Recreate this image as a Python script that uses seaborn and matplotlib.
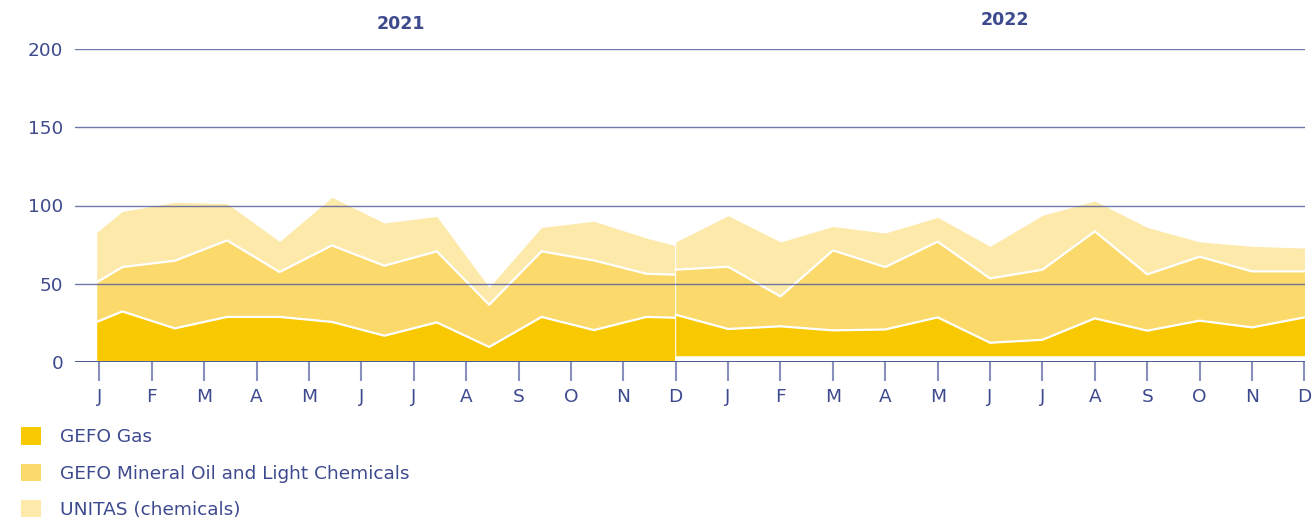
import numpy as np
import matplotlib
matplotlib.use('Agg')
import matplotlib.pyplot as plt
from matplotlib.patches import Patch
import seaborn as sns

# month labels for both years, one tick per month
month_labels = ['J', 'F', 'M', 'A', 'M', 'J', 'J', 'A', 'S', 'O', 'N', 'D'] * 2
years = ['2021', '2022']

# 2021 points sit between the month ticks, 2022 points sit on them
x_2021 = [-0.05, 0.44, 1.44, 2.44, 3.44, 4.44, 5.44, 6.44, 7.44, 8.44, 9.44, 10.44, 10.98]
x_2022 = [11, 12, 13, 14, 15, 16, 17, 18, 19, 20, 21, 22, 23]

base_2021 = 1.0
base_2022 = 4.0

gas_2021 = [24.6, 31.3, 20.5, 27.8, 27.8, 24.6, 15.8, 24.3, 8.6, 27.8, 19.4, 27.8, 27.3]
oil_2021 = [25.3, 28.4, 43.2, 48.9, 28.7, 48.9, 44.7, 45.4, 27.0, 41.9, 44.5, 27.6, 27.5]
unitas_2021 = [31.9, 35.5, 37.3, 23.5, 19.5, 30.7, 27.3, 22.3, 11.1, 15.3, 25.0, 22.8, 18.7]

gas_2022 = [26.2, 17.1, 18.8, 16.2, 16.8, 24.5, 8.3, 10.2, 23.9, 16.0, 22.4, 18.1, 24.5]
oil_2022 = [28.8, 39.8, 19.1, 51.1, 39.9, 48.4, 41.1, 44.8, 55.6, 36.0, 40.9, 35.8, 29.4]
unitas_2022 = [17.7, 32.6, 34.8, 15.3, 21.7, 15.5, 20.5, 34.7, 19.4, 30.0, 9.4, 16.0, 14.9]

series_names = ['GEFO Gas', 'GEFO Mineral Oil and Light Chemicals', 'UNITAS (chemicals)']
colors = ['#F8C800', '#FBDA6B', '#FDE9A9']
navy = '#3E4A8E'

sns.set_theme(style='white')
plt.rcParams['font.family'] = ['DejaVu Sans']
fs = 13.3

fig = plt.figure(figsize=(13.16, 5.2), dpi=100)
ax = fig.add_axes([75 / 1316, 1 - 362 / 520, 1230 / 1316, 313 / 520])

for xs, base, layers in [(x_2021, base_2021, [gas_2021, oil_2021, unitas_2021]),
                         (x_2022, base_2022, [gas_2022, oil_2022, unitas_2022])]:
    xs = np.array(xs)
    lower = np.full(len(xs), base)
    for i, vals in enumerate(layers):
        upper = lower + np.array(vals)
        ax.fill_between(xs, lower, upper, color=colors[i], linewidth=0, zorder=1)
        if i < 2:
            # white separator line on top of gas and oil
            sns.lineplot(x=xs, y=upper, color='white', linewidth=1.6, ax=ax, zorder=2)
        lower = upper

# gridlines drawn over the areas
for yv in [50, 100, 150, 200]:
    ax.axhline(yv, color='#56609E', linewidth=1.0, alpha=0.85, zorder=3)
ax.axhline(0, color=navy, linewidth=1.3, zorder=3)

ax.set_xlim(-0.464, 23.01)
ax.set_ylim(0, 200)
ax.set_yticks([0, 50, 100, 150, 200])
ax.set_xticks(range(24))
ax.set_xticklabels(month_labels)
for s in ax.spines.values():
    s.set_visible(False)
ax.grid(False)
ax.tick_params(axis='x', length=14, width=1.5, color='#8990BE', colors=navy,
               labelsize=fs, pad=5, bottom=True)
ax.tick_params(axis='y', length=0, colors=navy, labelsize=fs, pad=8.5)
for lab in ax.get_xticklabels():
    lab.set_color(navy)

# year headings
ax.text(5.76, 1.08, years[0], transform=ax.get_xaxis_transform(), ha='center', va='center',
        fontsize=12.5, fontweight='bold', color=navy)
ax.text(17.29, 1.093, years[1], transform=ax.get_xaxis_transform(), ha='center', va='center',
        fontsize=12.5, fontweight='bold', color=navy)

handles = [Patch(facecolor=c, edgecolor='none') for c in colors]
leg = fig.legend(handles, series_names, loc='upper left', bbox_to_anchor=(14 / 1316, 1 - 420 / 520),
                 frameon=False, fontsize=fs, handlelength=1.05, handleheight=1.05,
                 handletextpad=1.05, labelspacing=0.95, borderaxespad=0)
for t in leg.get_texts():
    t.set_color(navy)

plt.savefig('out.png', dpi=100)
